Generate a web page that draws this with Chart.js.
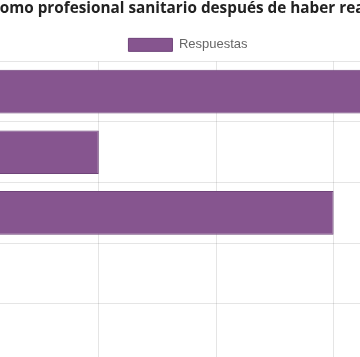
<!DOCTYPE html>
<html>
<head>
<meta charset="utf-8">
<script src="https://cdn.jsdelivr.net/npm/chart.js@4"></script>
<style>
html,body{margin:0;padding:0;width:360px;height:357px;overflow:hidden;background:#fff}
#wrap{position:absolute;left:-199px;top:-10px;width:774px;height:404px}
</style>
</head>
<body>
<div id="wrap"><canvas id="c" width="774" height="404"></canvas></div>
<script>
const chartTitle = "¿Cómo te sientes como profesional sanitario después de haber realizado la formación?";
const seriesName = "Respuestas";
const categories = ["Más seguro/a", "Igual", "Más preparado/a", "Menos seguro/a", "No sabe"];
const respuestas = [6, 2, 4, 1, 0];
const xMin = 0;
const xMax = 6;
const xStep = 1;

new Chart(document.getElementById('c'), {
  type: 'bar',
  data: {
    labels: categories,
    datasets: [{
      label: seriesName,
      data: respuestas,
      backgroundColor: '#86558f',
      borderColor: '#6f4479',
      borderWidth: 1
    }]
  },
  options: {
    indexAxis: 'y',
    responsive: false,
    animation: false,
    devicePixelRatio: 1,
    plugins: {
      title: {
        display: true,
        text: chartTitle,
        color: '#222',
        font: { family: "'Open Sans', sans-serif", size: 15.3, weight: 'bold' },
        padding: { top: 9, bottom: 11 }
      },
      legend: {
        labels: {
          boxWidth: 44,
          boxHeight: 13,
          color: '#666',
          font: { family: "'Liberation Sans', Arial, sans-serif", size: 13 }
        }
      },
      tooltip: { enabled: false }
    },
    scales: {
      x: {
        min: xMin,
        max: xMax,
        ticks: { stepSize: xStep, font: { size: 13 } },
        grid: { color: 'rgba(0,0,0,0.1)' }
      },
      y: {
        ticks: { font: { size: 13 } },
        grid: { color: 'rgba(0,0,0,0.1)' },
        afterFit: (s) => { s.width = 63; }
      }
    }
  }
});
</script>
</body>
</html>
